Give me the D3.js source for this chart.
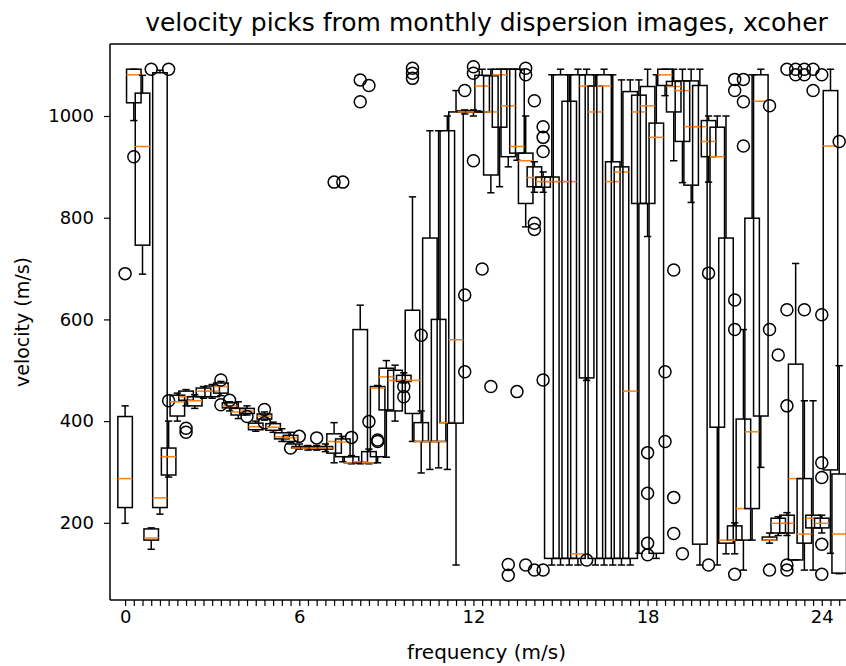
<!DOCTYPE html>
<html><head><meta charset="utf-8">
<script src="https://cdn.jsdelivr.net/npm/d3@7/dist/d3.min.js"></script>
<style>body{margin:0;background:#fff} text{font-family:"DejaVu Sans",sans-serif;fill:#000}</style>
</head><body><svg id="c" width="846" height="666"></svg>
<script>
const positions = [0,0.3,0.6,0.9,1.2,1.5,1.8,2.1,2.4,2.7,3,3.3,3.6,3.9,4.2,4.5,4.8,5.1,5.4,5.7,6,6.3,6.6,6.9,7.2,7.5,7.8,8.1,8.4,8.7,9,9.3,9.6,9.9,10.2,10.5,10.8,11.1,11.4,11.7,12,12.3,12.6,12.9,13.2,13.5,13.8,14.1,14.4,14.7,15,15.3,15.6,15.9,16.2,16.5,16.8,17.1,17.4,17.7,18,18.3,18.6,18.9,19.2,19.5,19.8,20.1,20.4,20.7,21,21.3,21.6,21.9,22.2,22.5,22.8,23.1,23.4,23.7,24,24.3,24.6];
const whiskerLow = [199,991,689,148,217,290,400,430,425,445,445,450,420,405,412,380,402,378,360,355,345,343,343,340,318,320,316,316,316,318,329,400,475,360,298,305,308,305,117,1004,1000,1008,849,861,900,913,782,850,850,117,117,117,117,480,117,117,117,117,117,140,763,130,1040,912,869,830,117,870,117,139,139,107,166,309,160,175,175,127,107,107,180,140,100];
const q1 = [230,1026,746,166,230,294,410,441,430,448,448,455,426,412,415,383,404,382,365,360,347,347,345,345,337,330,318,318,318,330,422,420,478,415,360,360,360,397,396,1008,1008,1008,884,978,920,927,828,861,860,130,130,130,130,485,130,130,130,130,130,828,828,140,1060,1008,950,864,158,920,388,160,166,166,228,410,166,180,180,127,160,190,190,304,101];
const medians = [287,1081,940,170,249,330,438,448,440,459,459,468,430,418,420,389,410,388,369,367,347,347,347,347,360,359,318,320,318,465,487,480,480,480,360,360,360,397,560,1008,1008,1059,1008,1081,1020,940,912,879,871,871,871,871,139,1059,1008,1059,871,890,459,1008,1020,958,1081,1058,1050,979,979,950,920,166,166,228,379,1029,166,199,199,287,178,209,199,941,178];
const q3 = [409,1092,1045,188,1085,347,451,459,448,465,469,475,436,425,425,396,414,395,377,372,350,350,349,350,375,365,330,580,340,468,504,500,490,618,397,760,600,971,1008,1010,1010,1080,1079,1092,1092,1092,927,900,880,880,1081,1029,1081,1081,1059,1081,910,900,1048,1041,1058,986,1092,1068,1069,1069,1060,991,978,760,194,404,799,1081,172,209,215,512,287,215,209,1050,296];
const whiskerHigh = [430,1092,1080,190,1090,400,455,462,452,468,472,478,438,438,430,400,418,398,385,378,355,352,352,355,397,370,332,628,345,470,519,510,495,841,420,971,971,1000,1050,1012,1012,1092,1092,1092,1092,1092,1000,910,890,1081,1092,1081,1092,1092,1081,1092,1081,1071,1071,1071,1092,1081,1092,1092,1092,1092,1092,1000,1000,1000,200,580,1081,1092,180,212,220,710,440,440,215,1092,509];
const outliers = [[690],[920],[],[1092],[],[440,1092],[],[386,378],[],[],[],[481,432],[441],[],[409],[],[423,397],[],[],[347],[370],[],[367],[],[870],[870],[368],[1071,1028],[1060,399],[363,360],[],[],[468,448],[1094,1084,1074],[569],[],[],[],[],[1050,648,497],[912,1097,1084],[699],[468],[],[118,97],[458],[117,1094,1081],[1030,107,789,777],[979,958,930,481,107],[],[],[],[],[127],[],[],[],[],[],[],[338,258,160,137],[],[497,360],[697,250,179],[139],[],[],[117,691],[],[],[99,1072,1050,638,580],[1072,1028,941],[],[],[1020,580,107],[530],[619,430,117,107,1092],[1092,1081],[619,1092,1081],[1092,1050],[318,289,609,158,99,1081],[],[950]];
const xTickLabelValues = [0,6,12,18,24];
const yTickValues = [200,400,600,800,1000];

const L=110,R=863,T=44,B=600;
const x = d3.scaleLinear().domain([-0.52,25.42]).range([L,R]);
const y = d3.scaleLinear().domain([48.2,1141.6]).range([B,T]);
const svg = d3.select('#c');
svg.append('rect').attr('width',846).attr('height',666).attr('fill','#fff');
svg.append('clipPath').attr('id','clip').append('rect').attr('x',L).attr('y',T).attr('width',R-L).attr('height',B-T);
const g = svg.append('g').attr('clip-path','url(#clip)');
const boxW = 0.5, capW = 0.25;
const lw = 1.5;
function line(x1,y1,x2,y2,c){g.append('line').attr('x1',x1).attr('y1',y1).attr('x2',x2).attr('y2',y2).attr('stroke',c||'#000').attr('stroke-width',lw);}
positions.forEach((p,i)=>{
  const cx=x(p), xl=x(p-boxW/2), xr=x(p+boxW/2), cl=x(p-capW/2), cr=x(p+capW/2);
  line(cx,y(q1[i]),cx,y(whiskerLow[i]));
  line(cx,y(q3[i]),cx,y(whiskerHigh[i]));
  line(cl,y(whiskerLow[i]),cr,y(whiskerLow[i]));
  line(cl,y(whiskerHigh[i]),cr,y(whiskerHigh[i]));
  g.append('rect').attr('x',xl).attr('y',y(q3[i])).attr('width',xr-xl).attr('height',Math.max(0,y(q1[i])-y(q3[i])))
    .attr('fill','none').attr('stroke','#000').attr('stroke-width',lw);
  line(xl,y(medians[i]),xr,y(medians[i]),'#ff7f0e');
  outliers[i].forEach(v=>{
    g.append('circle').attr('cx',cx).attr('cy',y(v)).attr('r',6).attr('fill','none').attr('stroke','#000').attr('stroke-width',lw);
  });
});
// spines
const sp = svg.append('g').attr('stroke','#000').attr('stroke-width',1.5);
sp.append('line').attr('x1',L).attr('x2',L).attr('y1',T).attr('y2',B);
sp.append('line').attr('x1',L).attr('x2',R).attr('y1',B).attr('y2',B);
sp.append('line').attr('x1',L).attr('x2',R).attr('y1',T).attr('y2',T);
sp.append('line').attr('x1',R).attr('x2',R).attr('y1',T).attr('y2',B);
// axes
const xa = d3.axisBottom(x).tickValues(positions).tickSize(6).tickSizeOuter(0)
  .tickFormat(d=>{const m=xTickLabelValues.find(v=>Math.abs(v-d)<1e-6);return m===undefined?'':String(m);});
const gx = svg.append('g').attr('transform',`translate(0,${B})`).call(xa);
gx.select('.domain').remove();
gx.selectAll('line').attr('stroke','#000').attr('stroke-width',1.2);
gx.selectAll('text').attr('font-size',18).attr('dy','0.75em').attr('y',9);
const ya = d3.axisLeft(y).tickValues(yTickValues).tickSize(6).tickSizeOuter(0).tickFormat(d3.format('d'));
const gy = svg.append('g').attr('transform',`translate(${L},0)`).call(ya);
gy.select('.domain').remove();
gy.selectAll('line').attr('stroke','#000').attr('stroke-width',1.2);
gy.selectAll('text').attr('font-size',18).attr('x',-16);
svg.selectAll('.tick text').style('font-family','"DejaVu Sans",sans-serif');
svg.append('text').attr('x',(L+R)/2).attr('y',659).attr('text-anchor','middle').attr('font-size',20).text('frequency (m/s)');
svg.append('text').attr('transform',`translate(29,${(T+B)/2}) rotate(-90)`).attr('text-anchor','middle').attr('font-size',19).text('velocity (m/s)');
svg.append('text').attr('x',(L+R)/2).attr('y',31).attr('text-anchor','middle').attr('font-size',25).text('velocity picks from monthly dispersion images, xcoher');
</script></body></html>
